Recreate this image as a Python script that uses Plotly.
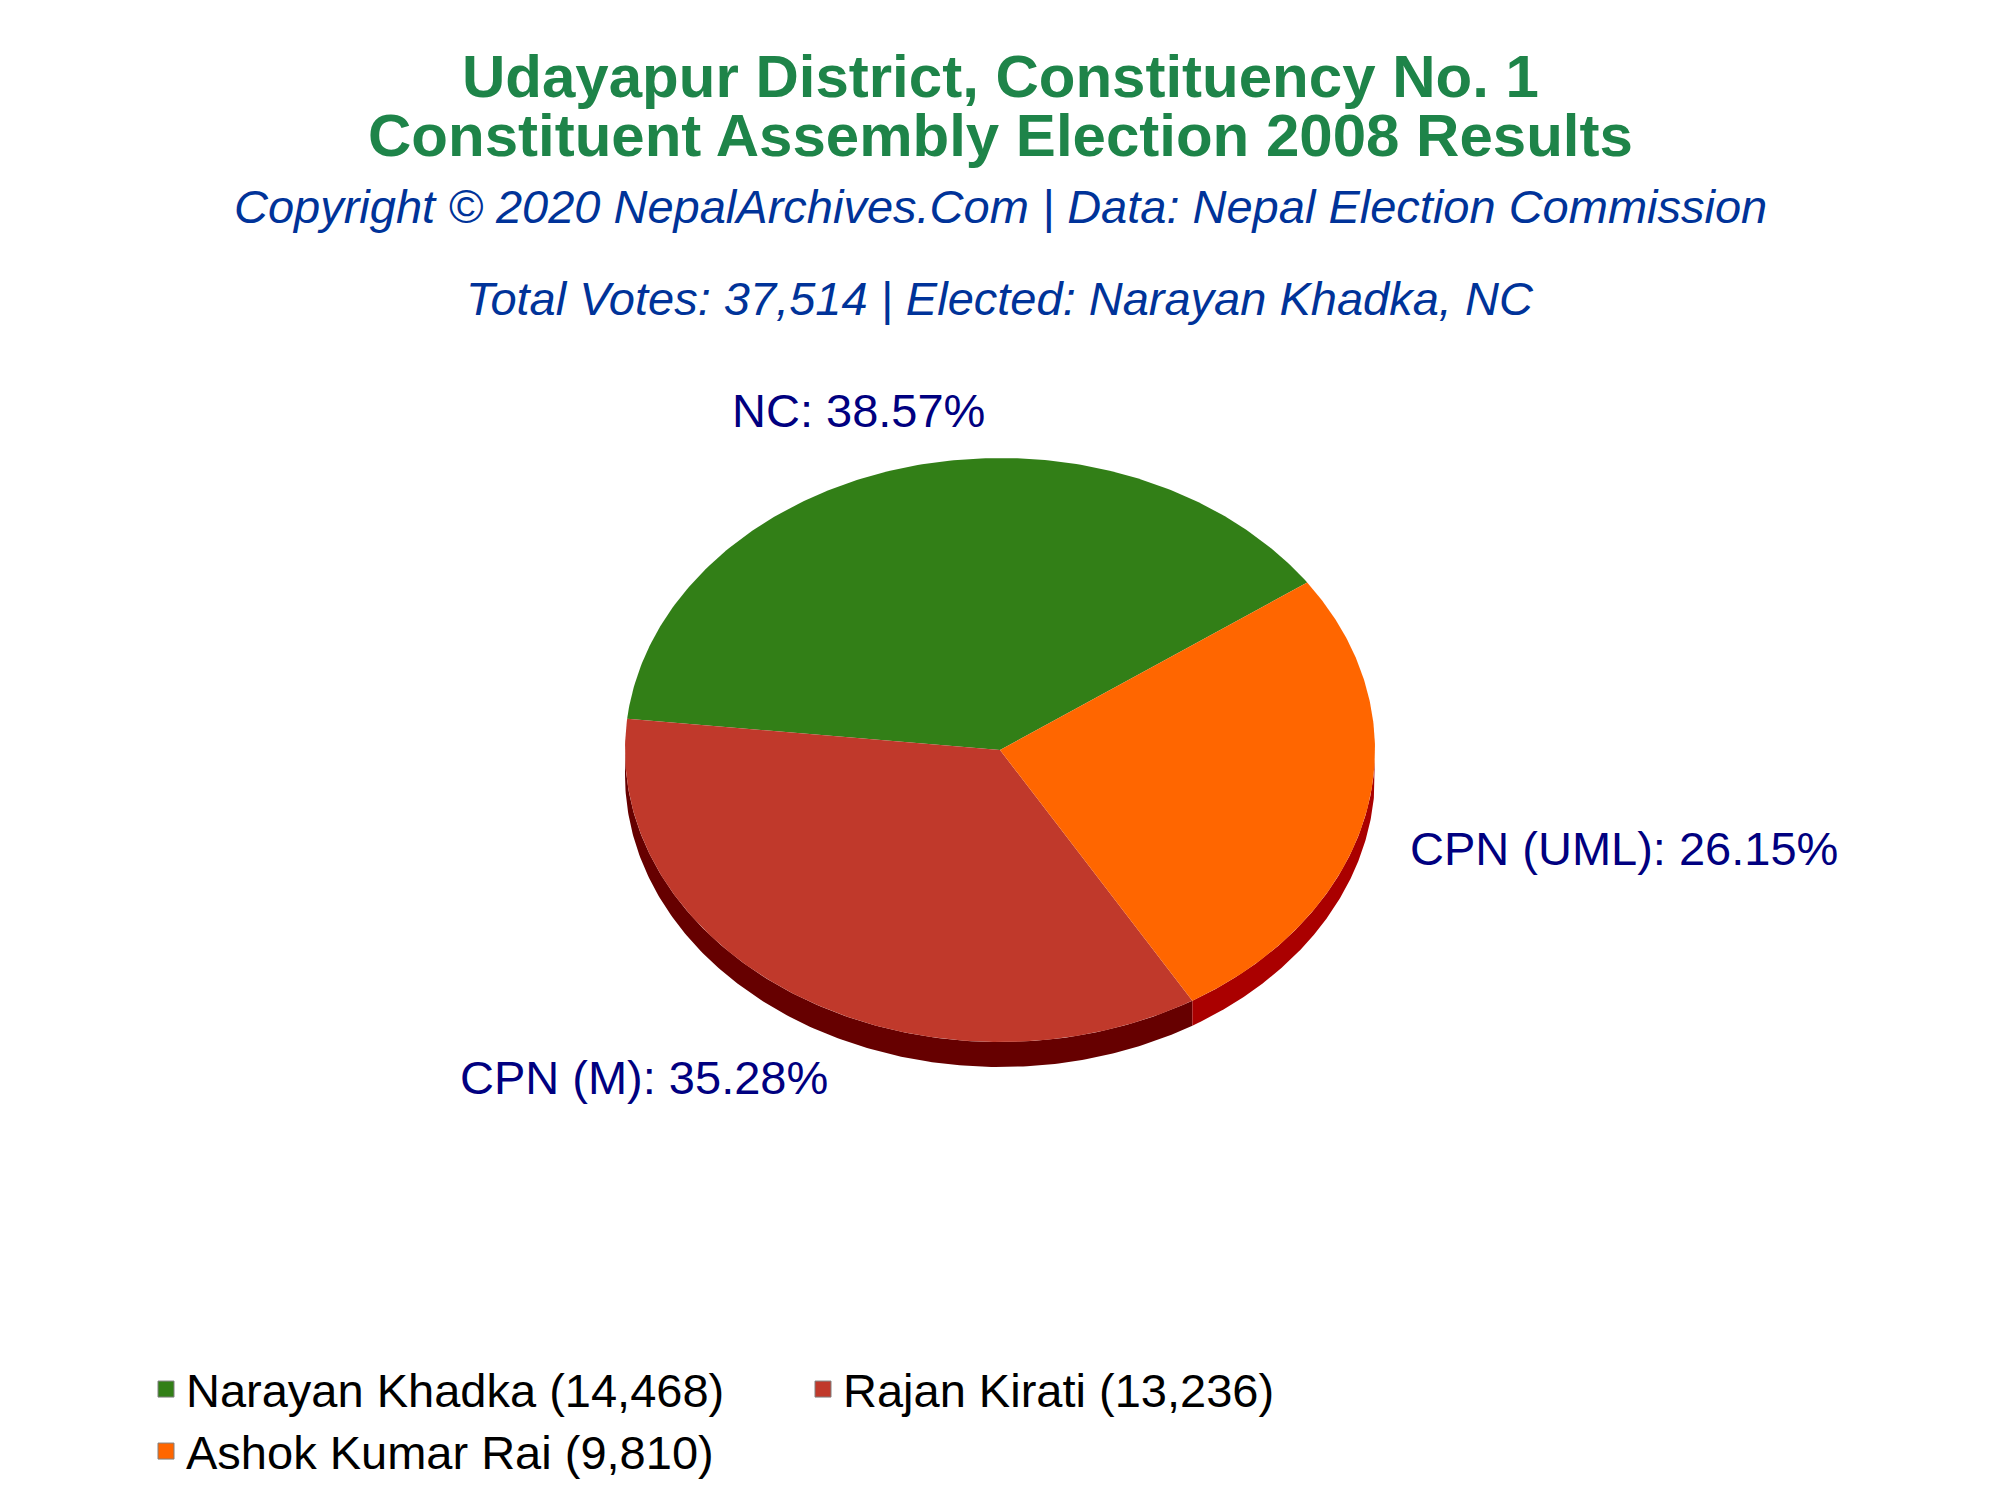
import numpy as np
import plotly.graph_objects as go

# ---------------- data ----------------
candidates = ["Narayan Khadka", "Rajan Kirati", "Ashok Kumar Rai"]
parties = ["NC", "CPN (M)", "CPN (UML)"]
votes = [14468, 13236, 9810]
total_votes = 37514
elected = "Narayan Khadka, NC"

# ---------------- style ----------------
top_colors = ["#327F17", "#C0392B", "#FF6600"]
side_colors = ["#1E4D0E", "#660000", "#AA0000"]
FONT = "Liberation Sans, Arial, sans-serif"
OFF = 8                      # page body margin
W, H = 2000 - 2 * OFF, 1500 - 2 * OFF
CX, CY = 1000 - OFF, 750 - OFF   # pie centre in figure pixels
RX, RY = 375, 292            # ellipse radii in pixels
DEPTH = 25 / RY              # 3D thickness in y-units
START_DEG = 35.0             # first slice starts here, counter-clockwise
# label placement (xanchor, xshift, yshift) relative to rim point at mid angle
label_style = {
    "NC": ("center", -48, 57),
    "CPN (M)": ("right", 32, -82),
    "CPN (UML)": ("left", 41, -37),
}
# legend slots (screen px of legend box left, top): 2 columns, 2 rows
legend_slots = [(146, 1352), (803, 1352), (146, 1414)]

vals = np.array(votes, dtype=float)
share = vals / vals.sum()
bounds = START_DEG + np.concatenate([[0], np.cumsum(share) * 360.0])

fig = go.Figure()

def arc(a1, a2, n=200):
    t = np.radians(np.linspace(a1, a2, n))
    return np.cos(t), np.sin(t)

# sides (front half only: 180..360 deg)
for i in range(len(votes)):
    a1, a2 = bounds[i], bounds[i + 1]
    for k in (-360, 0, 360):
        lo, hi = max(a1, 180 + k), min(a2, 360 + k)
        if lo < hi:
            x, y = arc(lo, hi)
            xs = np.concatenate([x, x[::-1]])
            ys = np.concatenate([y, (y - DEPTH)[::-1]])
            fig.add_trace(go.Scatter(
                x=xs, y=ys, mode="lines", fill="toself",
                fillcolor=side_colors[i], line=dict(width=0, color=side_colors[i]),
                hoverinfo="skip", showlegend=False))

# top faces
for i in range(len(votes)):
    x, y = arc(bounds[i], bounds[i + 1])
    xs = np.concatenate([[0], x, [0]])
    ys = np.concatenate([[0], y, [0]])
    fig.add_trace(go.Scatter(
        x=xs, y=ys, mode="lines", fill="toself",
        fillcolor=top_colors[i], line=dict(width=0, color=top_colors[i]),
        hoverinfo="skip", showlegend=False))

# legend entries (one legend box per entry, laid out in a 2-column grid)
legend_layouts = {}
for i in range(len(votes)):
    lname = "legend" if i == 0 else f"legend{i + 1}"
    fig.add_trace(go.Scatter(
        x=[None], y=[None], mode="markers",
        marker=dict(symbol="square", size=30, color=top_colors[i],
                    line=dict(color="#808080", width=1)),
        name=f"{candidates[i]} ({votes[i]:,})", showlegend=True, legend=lname))
    lx, ly = legend_slots[i]
    legend_layouts[lname] = dict(
        orientation="h", x=(lx - OFF) / W, xanchor="left",
        y=1 - (ly - OFF) / H, yanchor="top",
        font=dict(family=FONT, size=47, color="black"),
        itemsizing="trace", bgcolor="rgba(0,0,0,0)")

# slice labels
for i in range(len(votes)):
    mid = np.radians((bounds[i] + bounds[i + 1]) / 2)
    xa, xs_, ys_ = label_style[parties[i]]
    fig.add_annotation(
        x=np.cos(mid), y=np.sin(mid), xref="x", yref="y",
        text=f"{parties[i]}: {share[i]*100:.2f}%", showarrow=False,
        xanchor=xa, yanchor="middle", xshift=xs_, yshift=ys_,
        font=dict(family=FONT, size=47, color="#000080"))

# titles (y in screenshot pixels)
titles = [
    ("Udayapur District, Constituency No. 1", 77, 60, "#1E8449", True, False),
    ("Constituent Assembly Election 2008 Results", 136, 60, "#1E8449", True, False),
    ("Copyright © 2020 NepalArchives.Com | Data: Nepal Election Commission", 207, 47, "#003399", False, True),
    (f"Total Votes: {total_votes:,} | Elected: {elected}", 298, 47, "#003399", False, True),
]
for txt, ypix, size, col, bold, ital in titles:
    t = txt
    if bold:
        t = f"<b>{t}</b>"
    if ital:
        t = f"<i>{t}</i>"
    fig.add_annotation(
        x=0.5, y=1 - (ypix - OFF) / H, xref="paper", yref="paper", text=t,
        showarrow=False, xanchor="center", yanchor="middle",
        font=dict(family=FONT, size=size, color=col))

fig.update_layout(
    width=W, height=H,
    margin=dict(l=0, r=0, t=0, b=0, pad=0, autoexpand=False),
    paper_bgcolor="white", plot_bgcolor="white",
    xaxis=dict(visible=False, range=[-CX / RX, (W - CX) / RX], fixedrange=True),
    yaxis=dict(visible=False, range=[-(H - CY) / RY, CY / RY], fixedrange=True),
    showlegend=True,
    **legend_layouts,
)

fig.write_html("out.html")
